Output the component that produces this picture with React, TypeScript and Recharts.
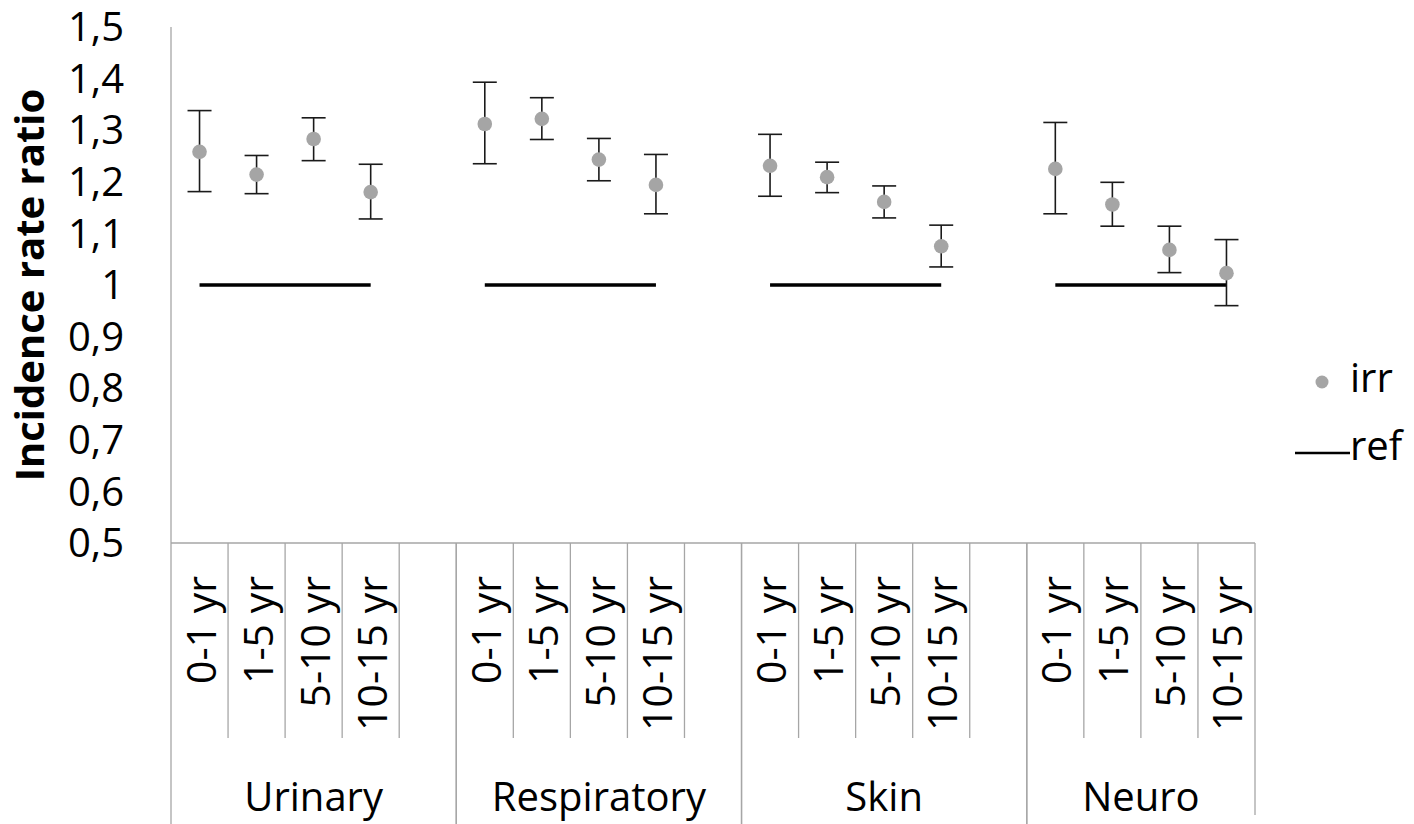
import React from 'react';
import { ComposedChart, Line, XAxis, YAxis, ErrorBar, Legend, Label } from 'recharts';

const groups = ['Urinary', 'Respiratory', 'Skin', 'Neuro'];
const ageBands = ['0-1 yr', '1-5 yr', '5-10 yr', '10-15 yr'];

// incidence rate ratio with 95% CI, in group order, 4 age bands each
const irrValues = [1.258, 1.214, 1.283, 1.18, 1.312, 1.322, 1.243, 1.194, 1.231, 1.209, 1.161, 1.075, 1.225, 1.156, 1.068, 1.023];
const ciLower = [1.181, 1.177, 1.241, 1.128, 1.235, 1.282, 1.202, 1.138, 1.172, 1.179, 1.13, 1.035, 1.138, 1.114, 1.024, 0.96];
const ciUpper = [1.338, 1.251, 1.324, 1.234, 1.393, 1.363, 1.284, 1.253, 1.292, 1.238, 1.192, 1.116, 1.315, 1.199, 1.114, 1.088];
const refValue = 1;

const yTicks = [0.5, 0.6, 0.7, 0.8, 0.9, 1, 1.1, 1.2, 1.3, 1.4, 1.5];
const yTickLabels = ['0,5', '0,6', '0,7', '0,8', '0,9', '1', '1,1', '1,2', '1,3', '1,4', '1,5'];

const FONT = '"Open Sans", sans-serif';
const GRID = '#a6a6a6';

type Row = {
  key: string;
  group: string;
  age: string;
  first: boolean;
  last: boolean;
  slots: number;
  irr: number | null;
  err?: number[];
  ref: number | null;
};

const data: Row[] = [];
groups.forEach((g, gi) => {
  const hasGap = gi < groups.length - 1;
  const slots = ageBands.length + (hasGap ? 1 : 0);
  ageBands.forEach((a, ai) => {
    const i = gi * ageBands.length + ai;
    data.push({
      key: `${g}-${a}`,
      group: g,
      age: a,
      first: ai === 0,
      last: ai === slots - 1,
      slots,
      irr: irrValues[i],
      err: [irrValues[i] - ciLower[i], ciUpper[i] - irrValues[i]],
      ref: refValue,
    });
  });
  if (hasGap) {
    data.push({ key: `${g}-gap`, group: g, age: '', first: false, last: true, slots, irr: null, ref: null });
  }
});

const W = 1414;
const H = 824;
const margin = { top: 27, right: 159, left: 0, bottom: 0 };
const yAxisWidth = 171;
const xAxisHeight = 281;
const fallbackHalf = (W - margin.right - margin.left - yAxisWidth) / data.length / 2;

const CategoryTick = (props: any) => {
  const { x, y, payload } = props;
  const row = data.find((d) => d.key === payload.value);
  if (!row) return null;
  const half = payload.offset || fallbackHalf;
  const isFinal = row.key === data[data.length - 1].key;
  const labelTop = y + 33;
  return (
    <g>
      {row.first && <line x1={x - half} x2={x - half} y1={y} y2={y + xAxisHeight} stroke={GRID} strokeWidth={1.3} />}
      <line
        x1={x + half}
        x2={x + half}
        y1={y}
        y2={row.last ? (isFinal ? y + 272 : y + xAxisHeight) : y + 195}
        stroke={GRID}
        strokeWidth={1.3}
      />
      {row.age && (
        <text
          x={x}
          y={labelTop}
          transform={`rotate(-90, ${x}, ${labelTop})`}
          textAnchor="end"
          dominantBaseline="central"
          fontFamily={FONT}
          fontSize={41}
          fill="#000"
        >
          {row.age}
        </text>
      )}
      {row.first && (
        <text x={x + (row.slots - 1) * half} y={y + 268} textAnchor="middle" fontFamily={FONT} fontSize={40} fill="#000">
          {row.group}
        </text>
      )}
    </g>
  );
};

const LegendBox = () => (
  <svg width={128} height={130} style={{ overflow: 'visible' }}>
    <circle cx={42} cy={32} r={6.5} fill="#a5a5a5" />
    <text x={70} y={42} fontFamily={FONT} fontSize={40} fill="#000">irr</text>
    <line x1={15} x2={70} y1={103} y2={103} stroke="#000" strokeWidth={2.5} />
    <text x={70} y={110} fontFamily={FONT} fontSize={40} fill="#000">ref</text>
  </svg>
);

const TitleLabel = (props: any) => {
  const { viewBox } = props;
  const cx = 44;
  const cy = viewBox.y + viewBox.height / 2;
  return (
    <text
      x={cx}
      y={cy}
      transform={`rotate(-90, ${cx}, ${cy})`}
      textAnchor="middle"
      fontFamily={FONT}
      fontSize={40}
      fontWeight="bold"
      fill="#000"
    >
      Incidence rate ratio
    </text>
  );
};

export default function App() {
  return (
    <div style={{ position: 'absolute', left: 0, top: 0, width: W, height: H, background: '#fff' }}>
      <ComposedChart width={W} height={H} data={data} margin={margin}>
        <XAxis
          dataKey="key"
          type="category"
          scale="band"
          interval={0}
          height={xAxisHeight}
          tickLine={false}
          tickSize={0}
          tickMargin={0}
          axisLine={{ stroke: GRID, strokeWidth: 1.3 }}
          tick={<CategoryTick />}
        />
        <YAxis
          type="number"
          domain={[0.5, 1.5]}
          ticks={yTicks}
          interval={0}
          width={yAxisWidth}
          tickLine={false}
          tickSize={0}
          tickMargin={47}
          axisLine={{ stroke: GRID, strokeWidth: 1.3 }}
          tickFormatter={(v: number) => yTickLabels[yTicks.indexOf(v)] ?? String(v)}
          tick={{ fontFamily: FONT, fontSize: 40, fill: '#000' }}
        >
          <Label content={<TitleLabel />} />
        </YAxis>
        <Legend
          verticalAlign="middle"
          align="center"
          content={<LegendBox />}
          wrapperStyle={{ left: 1280, top: 350, width: 128, height: 130 }}
        />
        <Line
          dataKey="ref"
          stroke="#000"
          strokeWidth={3.5}
          dot={false}
          activeDot={false}
          connectNulls={false}
          isAnimationActive={false}
        />
        <Line
          dataKey="irr"
          stroke="none"
          dot={{ r: 7.3, fill: '#a5a5a5', stroke: '#a5a5a5', strokeWidth: 0 }}
          activeDot={false}
          isAnimationActive={false}
        >
          <ErrorBar dataKey="err" direction="y" width={12} stroke="#1a1a1a" strokeWidth={1.6} />
        </Line>
      </ComposedChart>
    </div>
  );
}
